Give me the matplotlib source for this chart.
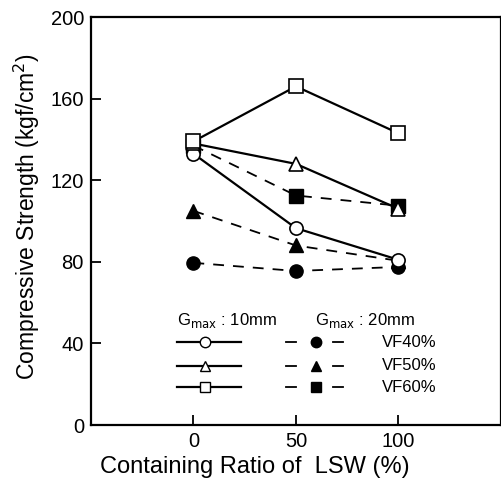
import matplotlib.pyplot as plt

plt.rcParams['font.family'] = ['Liberation Sans', 'DejaVu Sans']

# containing ratio of LSW (%)
ratio = [0, 50, 100]

# Gmax 10mm (open markers, solid lines)
g10_vf40 = [133, 96.5, 81]
g10_vf50 = [138, 128, 106]
g10_vf60 = [139, 166, 143]

# Gmax 20mm (filled markers, dashed lines)
g20_vf40 = [79.5, 75.5, 77.5]
g20_vf50 = [105, 88, 80.5]
g20_vf60 = [137, 112.5, 107.5]

vf_labels = ["VF40%", "VF50%", "VF60%"]
markers = ["o", "^", "s"]

fig = plt.figure(figsize=(5.02, 4.86), dpi=100)
ax = fig.add_axes([0.181, 0.1255, 0.817, 0.8395])

LW = 1.6
MS = 9.5

for ys, m in zip([g20_vf40, g20_vf50, g20_vf60], markers):
    ax.plot(ratio, ys, color="black", lw=1.3, ls=(0, (6, 5)),
            marker=m, ms=MS, mfc="black", mec="black")
for ys, m in zip([g10_vf40, g10_vf50, g10_vf60], markers):
    ax.plot(ratio, ys, color="black", lw=LW, ls="-",
            marker=m, ms=MS, mfc="white", mec="black", mew=1.2)

ax.set_xlim(-50, 150)
ax.set_ylim(0, 200)
ax.set_xticks(ratio)
ax.set_yticks([0, 40, 80, 120, 160, 200])
ax.tick_params(direction="in", length=7, width=1.3, labelsize=14.5, pad=5)
for s in ax.spines.values():
    s.set_linewidth(1.6)

ax.set_xlabel("Containing Ratio of  LSW (%)", fontsize=17)
ax.xaxis.set_label_coords(0.40, -0.075)
ax.set_ylabel("Compressive Strength (kgf/cm$^2$)", fontsize=16.5)
ax.yaxis.set_label_coords(-0.12, 0.51)

# hand drawn legend
tr = ax.transAxes
ax.text(0.21, 0.257, r"G$_{\mathrm{max}}$ : 10mm", transform=tr, fontsize=12, va="center")
ax.text(0.546, 0.257, r"G$_{\mathrm{max}}$ : 20mm", transform=tr, fontsize=12, va="center")
rows = [0.203, 0.145, 0.093]
for yr, m, lab in zip(rows, markers, vf_labels):
    ax.plot([0.21, 0.366], [yr, yr], transform=tr, color="black", lw=LW)
    ax.plot([0.278], [yr], transform=tr, marker=m, ms=7.5, mfc="white",
            mec="black", mew=1.0, ls="none")
    ax.plot([0.476, 0.5], [yr, yr], transform=tr, color="black", lw=1.3)
    ax.plot([0.59, 0.615], [yr, yr], transform=tr, color="black", lw=1.3)
    ax.plot([0.549], [yr], transform=tr, marker=m, ms=7.5, mfc="black",
            mec="black", ls="none")
    ax.text(0.71, yr, lab, transform=tr, fontsize=12, va="center")

fig.savefig("out.png", dpi=100)
